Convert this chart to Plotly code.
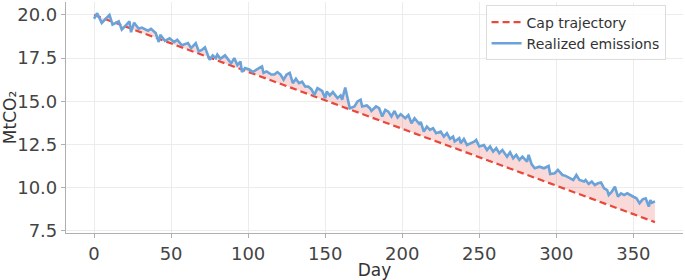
import plotly.graph_objects as go

# Cap trajectory (linear schedule endpoints)
cap_days = [0, 364]
cap_values = [20.0, 8.0]

# Realized emissions
realized_days = [
    0, 2, 5, 10, 12, 16, 18, 23, 24, 26, 29, 31, 35, 37, 40, 42, 43, 46, 49, 52,
    54, 57, 61, 63, 66, 68, 70, 72, 75, 77, 79, 80, 82, 85, 88, 89, 91, 93, 95, 96,
    98, 101, 103, 105, 107, 109, 110, 112, 115, 117, 119, 121, 123, 125, 127, 129, 131, 133, 135, 137,
    139, 141, 143, 145, 148, 150, 151, 153, 155, 158, 160, 161, 163, 165, 166, 169, 171, 173, 174, 177,
    179, 180, 183, 185, 187, 189, 191, 193, 195, 197, 199, 202, 204, 206, 208, 211, 212, 214, 216, 218,
    220, 222, 225, 227, 229, 231, 233, 234, 237, 238, 240, 242, 245, 247, 248, 250, 253, 255, 257, 259,
    261, 263, 265, 268, 270, 272, 274, 276, 278, 281, 282, 284, 286, 289, 292, 295, 296, 299, 301, 304,
    306, 308, 311, 313, 315, 318, 319, 321, 323, 325, 327, 329, 331, 333, 334, 336, 338, 340, 342, 344,
    346, 350, 352, 354, 356, 358, 360, 361, 362, 364,
]
realized_values = [
    19.78, 20.10, 19.54, 20.00, 19.44, 19.63, 19.15, 19.63, 19.00, 19.55, 19.20, 19.27, 19.09, 19.20, 18.95, 18.43, 18.85, 18.50, 18.65, 18.43,
    18.56, 18.24, 18.37, 18.08, 18.37, 17.89, 17.98, 18.12, 17.40, 17.65, 17.50, 17.70, 17.46, 17.66, 17.31, 17.20, 17.50, 17.10, 17.30, 16.69,
    16.93, 16.83, 16.69, 16.83, 16.92, 17.02, 16.64, 16.73, 16.55, 16.55, 16.69, 16.55, 16.25, 16.55, 16.64, 16.05, 16.30, 16.05, 16.13, 15.86,
    15.85, 15.70, 15.37, 15.76, 15.60, 15.18, 15.57, 15.34, 15.53, 15.18, 15.34, 15.09, 15.80, 14.99, 14.60, 14.70, 14.99, 15.09, 14.70, 14.76,
    14.60, 14.44, 14.70, 14.60, 14.12, 14.50, 14.40, 14.12, 14.44, 14.06, 14.25, 14.02, 14.20, 13.73, 14.02, 13.70, 13.80, 13.24, 13.53, 13.34,
    13.44, 13.15, 13.24, 12.95, 13.15, 12.82, 12.95, 12.67, 12.86, 12.57, 12.82, 12.47, 12.57, 12.67, 12.76, 12.38, 12.47, 12.18, 12.38, 12.08,
    12.28, 11.99, 12.18, 11.79, 12.05, 11.70, 11.89, 11.60, 11.79, 11.50, 11.90, 11.35, 11.12, 11.21, 11.12, 11.25, 10.79, 10.83, 11.02, 10.73,
    10.68, 10.60, 10.44, 10.73, 10.44, 10.35, 10.44, 10.21, 10.35, 10.15, 10.25, 10.29, 9.96, 9.86, 9.57, 9.76, 10.05, 9.47, 9.67, 9.57,
    9.67, 9.47, 9.38, 9.09, 9.32, 9.38, 8.90, 9.28, 9.12, 9.20,
]

x_ticks = [0, 50, 100, 150, 200, 250, 300, 350]
y_ticks = [7.5, 10.0, 12.5, 15.0, 17.5, 20.0]

RED = "#e8483a"
BLUE = "#6aa3d9"
FONT = "DejaVu Sans"

fig = go.Figure()

# Shaded gap between realized emissions and cap
fig.add_trace(go.Scatter(
    x=realized_days + cap_days[::-1],
    y=realized_values + cap_values[::-1],
    fill="toself",
    fillcolor="rgba(232,72,58,0.2)",
    line=dict(width=0),
    mode="lines",
    hoverinfo="skip",
    showlegend=False,
))

fig.add_trace(go.Scatter(
    x=cap_days, y=cap_values, mode="lines", name="Cap trajectory",
    line=dict(color=RED, width=2.2, dash="7px,4px"),
))

fig.add_trace(go.Scatter(
    x=realized_days, y=realized_values, mode="lines", name="Realized emissions",
    line=dict(color=BLUE, width=2.6),
))

axis_common = dict(
    showgrid=True, gridcolor="#ececec", gridwidth=1,
    zeroline=False,
    showline=True, linecolor="#b0b0b0", linewidth=1.2,
    ticks="outside", ticklen=4, tickcolor="#b0b0b0", tickwidth=1,
    tickfont=dict(family=FONT, size=18, color="#444444"),
    mirror=False,
    automargin=False,
)

fig.update_layout(
    width=685, height=280,
    margin=dict(l=66, r=2, t=2, b=47),
    paper_bgcolor="white", plot_bgcolor="white",
    font=dict(family=FONT, color="#444444"),
    xaxis=dict(
        range=[-18.2, 382.2], tickvals=x_ticks,
        title=dict(text="Day", font=dict(family=FONT, size=17, color="#333333"), standoff=0),
        **axis_common,
    ),
    yaxis=dict(
        range=[7.37, 20.75], tickvals=y_ticks, tickformat=".1f",
        title=dict(text="MtCO₂", font=dict(family=FONT, size=17, color="#333333"), standoff=4),
        **axis_common,
    ),
    legend=dict(
        x=0.68, xanchor="left", y=0.985, yanchor="top",
        bgcolor="rgba(255,255,255,0.85)", bordercolor="#dddddd", borderwidth=1,
        font=dict(family=FONT, size=14, color="#333333"),
        tracegroupgap=0, itemwidth=30,
    ),
    showlegend=True,
)

fig.write_html(
    "out.html",
    config={"displayModeBar": False},
    post_script="document.body.style.margin='0';",
)
